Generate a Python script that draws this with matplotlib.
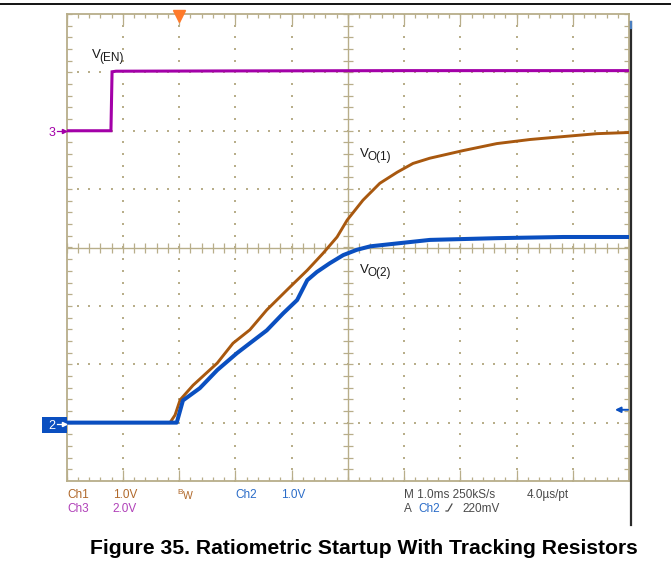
import numpy as np
import matplotlib.pyplot as plt
from matplotlib.patches import Rectangle
from matplotlib.lines import Line2D

# --- Captured traces (time in ms, level in V) ---
t_ch1 = [-2.0, -0.16, -0.07, 0.02, 0.25, 0.68, 0.96, 1.26, 1.56, 1.97, 2.28,
         2.56, 2.81, 2.99, 3.27, 3.57, 3.88, 4.16, 4.46, 5.05, 5.65, 6.24,
         6.83, 7.43, 8.0]
v_ch1 = [0.0, 0.0, 0.13, 0.39, 0.64, 1.02, 1.36, 1.59, 1.93, 2.32, 2.61,
         2.90, 3.18, 3.47, 3.81, 4.10, 4.29, 4.44, 4.53, 4.66, 4.78, 4.85,
         4.90, 4.95, 4.97]

t_ch2 = [-2.0, -0.04, 0.07, 0.37, 0.68, 1.03, 1.26, 1.56, 1.85, 2.10, 2.28,
         2.45, 2.68, 2.92, 3.16, 3.40, 3.88, 4.46, 5.65, 6.83, 8.0]
v_ch2 = [0.0, 0.0, 0.38, 0.59, 0.90, 1.19, 1.36, 1.58, 1.87, 2.10, 2.44,
         2.58, 2.73, 2.87, 2.96, 3.02, 3.07, 3.13, 3.16, 3.18, 3.18]

t_ch3 = [-2.0, -1.21, -1.19, -1.12, 1.0, 4.0, 8.0]
v_ch3 = [0.0, 0.0, 2.02, 2.04, 2.05, 2.06, 2.06]

# channel settings: volts/div and ground position (div from centre)
ch1_scale, ch1_gnd = 1.0, -3
ch2_scale, ch2_gnd = 1.0, -3
ch3_scale, ch3_gnd = 2.0, 2
trig_level = 0.22  # V on Ch2

c_ch1 = '#A8580F'
c_ch2 = '#0A4FC0'
c_ch3 = '#A300A8'
c_grid = '#B8AE8A'
c_trig = '#FF7A2A'

W, H = 671, 573


def px(x, y):
    return x / W, 1 - y / H


fig = plt.figure(figsize=(W / 100, H / 100), dpi=100)
fig.patch.set_facecolor('white')

# screen area: 10 x 8 divisions
x0, x1, y0, y1 = 66.5, 629, 14, 481
ax = fig.add_axes([x0 / W, 1 - y1 / H, (x1 - x0) / W, (y1 - y0) / H])
ax.set_xlim(-2, 8)
ax.set_ylim(-4, 4)
ax.set_xticks([])
ax.set_yticks([])
for s in ax.spines.values():
    s.set_color(c_grid)
    s.set_linewidth(1.3)

ppx = (x1 - x0) / 10   # pixels per ms
ppy = (y1 - y0) / 8    # pixels per div

# dotted graticule
minor_t = np.arange(-2, 8.001, 0.2)
minor_y = np.arange(-4, 4.001, 0.2)
for xd in [-1, 0, 1, 2, 4, 5, 6, 7]:
    ax.scatter(np.full(minor_y.size, xd), minor_y, s=1.6, marker='s',
               color=c_grid, linewidths=0, zorder=1)
for yd in [-3, -2, -1, 1, 2, 3]:
    ax.scatter(minor_t, np.full(minor_t.size, yd), s=1.6, marker='s',
               color=c_grid, linewidths=0, zorder=1)

# centre crosshair
ax.axvline(3, color=c_grid, lw=1.0, zorder=1)
ax.axhline(0, color=c_grid, lw=1.0, zorder=1)
ax.vlines(minor_t, -5 / ppy, 5 / ppy, color=c_grid, lw=0.9, zorder=1)
ax.hlines(minor_y, 3 - 5 / ppx, 3 + 5 / ppx, color=c_grid, lw=0.9, zorder=1)

# edge ticks
major_t = np.arange(-2, 8.001, 1.0)
ax.vlines(minor_t, 4 - 4 / ppy, 4, color=c_grid, lw=0.9)
ax.vlines(minor_t, -4, -4 + 4 / ppy, color=c_grid, lw=0.9)
ax.vlines(major_t, 4 - 11 / ppy, 4, color=c_grid, lw=0.9)
ax.vlines(major_t, -4, -4 + 11 / ppy, color=c_grid, lw=0.9)
ax.hlines(minor_y, -2, -2 + 5 / ppx, color=c_grid, lw=0.9)
ax.hlines(minor_y, 8 - 5 / ppx, 8, color=c_grid, lw=0.9)

# traces
y1_div = ch1_gnd + np.array(v_ch1) / ch1_scale
y2_div = ch2_gnd + np.array(v_ch2) / ch2_scale
y3_div = ch3_gnd + np.array(v_ch3) / ch3_scale
ax.plot(t_ch3, y3_div, color=c_ch3, lw=2.2, solid_joinstyle='miter', zorder=3)
ax.plot(t_ch1, y1_div, color=c_ch1, lw=2.1, zorder=3)
ax.plot(t_ch2, y2_div, color=c_ch2, lw=2.9, zorder=4)

# trigger position and level markers
ax.plot([0], [4 - 1.5 / ppy], marker='v', ms=8, color=c_trig, clip_on=False,
        zorder=5)
ax.annotate('', xy=(8 - 14 / ppx, ch2_gnd + trig_level / ch2_scale),
            xytext=(8 - 1 / ppx, ch2_gnd + trig_level / ch2_scale),
            arrowprops=dict(arrowstyle='-|>', color=c_ch2, lw=1.4,
                            mutation_scale=8, shrinkA=0, shrinkB=0),
            zorder=5)

# trace labels
lab = dict(color='#1a1a1a', family=['Liberation Sans', 'DejaVu Sans'])
fig.text(*px(92, 58), 'V', fontsize=9.5, ha='left', va='baseline', **lab)
fig.text(*px(99.5, 61), '(EN)', fontsize=8.5, ha='left', va='baseline', **lab)
fig.text(*px(360, 157), 'V', fontsize=9.5, ha='left', va='baseline', **lab)
fig.text(*px(367.5, 160), 'O(1)', fontsize=8.5, ha='left', va='baseline', **lab)
fig.text(*px(360, 273), 'V', fontsize=9.5, ha='left', va='baseline', **lab)
fig.text(*px(367.5, 276), 'O(2)', fontsize=8.5, ha='left', va='baseline', **lab)

# ground reference markers on the left edge
mk = dict(fontsize=9, ha='left', va='baseline',
          family=['Liberation Sans', 'DejaVu Sans'])
fig.text(*px(49, 136), '3', color=c_ch3, **mk)
fig.add_artist(Line2D([57 / W, 66 / W], [1 - 131 / H] * 2, color=c_ch3,
                      lw=0.9))
fig.add_artist(Line2D([63.5 / W], [1 - 131 / H], marker='>', ms=3,
                      color=c_ch3))
fig.add_artist(Rectangle(px(42, 433), 25 / W, 16 / H, facecolor=c_ch2,
                         edgecolor='none', transform=fig.transFigure))
fig.text(*px(48, 429), '2', color='white', **mk)
fig.add_artist(Line2D([57 / W, 66 / W], [1 - 424 / H] * 2, color='white',
                      lw=0.9))
fig.add_artist(Line2D([63.5 / W], [1 - 424 / H], marker='>', ms=3,
                      color='white'))

# readout under the screen
ro = dict(fontsize=8.5, ha='left', va='baseline',
          family=['Liberation Sans', 'DejaVu Sans'])
c_ro1 = '#B0682A'
c_ro2 = '#2A6CC8'
c_ro3 = '#B040B8'
c_txt = '#4a4a4a'
fig.text(*px(67, 498), 'Ch1', color=c_ro1, **ro)
fig.text(*px(113, 498), '1.0V', color=c_ro1, **ro)
fig.text(*px(67, 512), 'Ch3', color=c_ro3, **ro)
fig.text(*px(112, 512), '2.0V', color=c_ro3, **ro)
fig.text(*px(177, 494), 'B', color=c_ro1, fontsize=6, ha='left',
         va='baseline', family=['Liberation Sans', 'DejaVu Sans'])
fig.text(*px(183, 499), 'W', color=c_ro1, fontsize=7.5, ha='left',
         va='baseline', family=['Liberation Sans', 'DejaVu Sans'])
fig.text(*px(235, 498), 'Ch2', color=c_ro2, **ro)
fig.text(*px(281, 498), '1.0V', color=c_ro2, **ro)
fig.text(*px(404, 498), 'M 1.0ms 250kS/s', color=c_txt, **ro)
fig.text(*px(527, 498), '4.0\u00b5s/pt', color=c_txt, **ro)
fig.text(*px(404, 512), 'A', color=c_txt, **ro)
fig.text(*px(418, 512), 'Ch2', color=c_ro2, **ro)
fig.add_artist(Line2D([446 / W, 448 / W, 452 / W],
                      [1 - 511 / H, 1 - 511 / H, 1 - 504 / H],
                      color=c_txt, lw=0.9))
fig.text(*px(462, 512), '220mV', color=c_txt, **ro)

# page rules
fig.add_artist(Line2D([0, 1], [1 - 4 / H] * 2, color='black', lw=1.3))
fig.add_artist(Line2D([631 / W] * 2, [1 - 22 / H, 1 - 525 / H],
                      color='#2b2b2b', lw=1.6))
fig.add_artist(Line2D([631 / W] * 2, [1 - 22 / H, 1 - 28 / H],
                      color='#4a7fc0', lw=1.6))

# caption
fig.text(*px(364, 554), 'Figure 35. Ratiometric Startup With Tracking Resistors',
         fontsize=15.2, fontweight='bold', ha='center', va='baseline',
         family=['Liberation Sans', 'DejaVu Sans'], color='black')

fig.savefig('out.png', dpi=100)
